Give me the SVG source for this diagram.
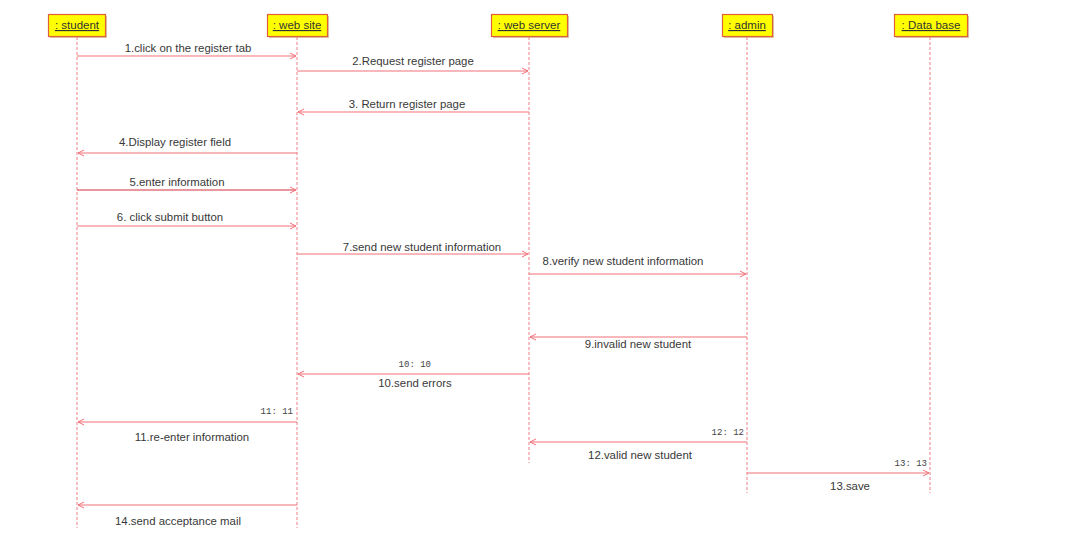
<svg xmlns="http://www.w3.org/2000/svg" width="1092" height="540" viewBox="0 0 1092 540">
<style>
.box{fill:#ffff00;stroke:#e0603a;stroke-width:1.2}
.shadow{fill:#d8c8b0}
.nm{font-family:"Liberation Sans",Arial,sans-serif;font-size:11.5px;fill:#333;text-anchor:middle;text-decoration:underline}
.life{stroke:#f07c84;stroke-width:1;stroke-dasharray:3,2;fill:none}
.msg{stroke:#f07078;stroke-width:1.1;fill:none;marker-end:url(#ah)}
.dark{stroke:#d83040}
.lbl{font-family:"Liberation Sans",Arial,sans-serif;font-size:11.4px;fill:#383838;text-anchor:middle}
.seq{font-family:"Liberation Mono","Courier New",monospace;font-size:9px;fill:#444;text-anchor:end}
</style>
<defs>
<marker id="ah" markerWidth="8" markerHeight="8" refX="7" refY="4" orient="auto" markerUnits="userSpaceOnUse">
<path d="M1,1 L7,4 L1,7" fill="none" stroke="#f07078" stroke-width="1"/>
</marker>
</defs>
<rect width="1092" height="540" fill="#ffffff"/>
<g id="student">
<rect class="shadow" x="50" y="16" width="57" height="22"/>
<rect class="box" x="48.5" y="14.5" width="57" height="22"/>
<text class="nm" x="77" y="29">: student</text>
<line class="life" x1="77" y1="37" x2="77" y2="528"/>
</g>
<g id="website">
<rect class="shadow" x="269" y="16" width="60" height="22"/>
<rect class="box" x="267.5" y="14.5" width="60" height="22"/>
<text class="nm" x="297" y="29">: web site</text>
<line class="life" x1="297" y1="37" x2="297" y2="528"/>
</g>
<g id="webserver">
<rect class="shadow" x="493" y="16" width="76" height="22"/>
<rect class="box" x="491.5" y="14.5" width="76" height="22"/>
<text class="nm" x="529" y="29">: web server</text>
<line class="life" x1="529" y1="37" x2="529" y2="463"/>
</g>
<g id="admin">
<rect class="shadow" x="724" y="16" width="50" height="22"/>
<rect class="box" x="722.5" y="14.5" width="50" height="22"/>
<text class="nm" x="747" y="29">: admin</text>
<line class="life" x1="747" y1="37" x2="747" y2="493"/>
</g>
<g id="database">
<rect class="shadow" x="896" y="16" width="73" height="22"/>
<rect class="box" x="894.5" y="14.5" width="73" height="22"/>
<text class="nm" x="931" y="29">: Data base</text>
<line class="life" x1="930" y1="37" x2="930" y2="493"/>
</g>
<g id="connectors">
<line class="msg" x1="77" y1="56" x2="296" y2="56"/>
<text class="lbl" x="188" y="52">1.click on the register tab</text>
<line class="msg" x1="297" y1="71" x2="528" y2="71"/>
<text class="lbl" x="413" y="65">2.Request register page</text>
<line class="msg" x1="529" y1="112" x2="298" y2="112"/>
<text class="lbl" x="407" y="108">3. Return register page</text>
<line class="msg" x1="297" y1="153" x2="78" y2="153"/>
<text class="lbl" x="175" y="146">4.Display register field</text>
<line class="msg dark" x1="77" y1="190" x2="296" y2="190"/>
<text class="lbl" x="177" y="186">5.enter information</text>
<line class="msg" x1="77" y1="226" x2="296" y2="226"/>
<text class="lbl" x="170" y="221">6. click submit button</text>
<line class="msg" x1="297" y1="254" x2="528" y2="254"/>
<text class="lbl" x="422" y="251">7.send new student information</text>
<line class="msg" x1="529" y1="274" x2="746" y2="274"/>
<text class="lbl" x="623" y="265">8.verify new student information</text>
<line class="msg" x1="747" y1="337" x2="530" y2="337"/>
<text class="lbl" x="638" y="348">9.invalid new student</text>
<line class="msg" x1="529" y1="374" x2="298" y2="374"/>
<text class="seq" x="431" y="367">10: 10</text>
<text class="lbl" x="415" y="387">10.send errors</text>
<line class="msg" x1="297" y1="422" x2="78" y2="422"/>
<text class="seq" x="293" y="414">11: 11</text>
<text class="lbl" x="192" y="441">11.re-enter information</text>
<line class="msg" x1="747" y1="442" x2="530" y2="442"/>
<text class="seq" x="744" y="435">12: 12</text>
<text class="lbl" x="640" y="459">12.valid new student</text>
<line class="msg" x1="747" y1="473" x2="929" y2="473"/>
<text class="seq" x="927" y="466">13: 13</text>
<text class="lbl" x="850" y="490">13.save</text>
<line class="msg" x1="297" y1="505" x2="78" y2="505"/>
<text class="lbl" x="178" y="525">14.send acceptance mail</text>
</g>
</svg>
